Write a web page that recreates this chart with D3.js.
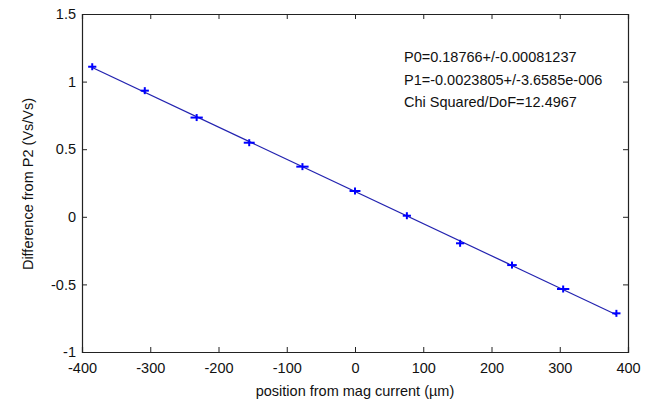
<!DOCTYPE html>
<html><head><meta charset="utf-8">
<script src="https://cdn.jsdelivr.net/npm/d3@7/dist/d3.min.js"></script>
<style>body{margin:0;background:#fff}svg{display:block}text{font-family:"Liberation Sans",Arial,sans-serif}</style>
</head><body><div id="c"></div>
<script>
const positions = [-385, -308, -232, -155, -77, 0, 76, 154, 230, 305, 383];
const differences = [1.110, 0.933, 0.734, 0.548, 0.371, 0.191, 0.008, -0.196, -0.357, -0.534, -0.714];
const xErrors = [3, 3, 6, 5, 6, 5, 3, 3, 4, 6, 3];
const fitP0 = 0.18766, fitP1 = -0.0023805;
const xTicks = [-400, -300, -200, -100, 0, 100, 200, 300, 400];
const yTicks = [-1, -0.5, 0, 0.5, 1, 1.5];
const annotations = ["P0=0.18766+/-0.00081237", "P1=-0.0023805+/-3.6585e-006", "Chi Squared/DoF=12.4967"];

const W = 646, H = 407;
const m = {l: 82, r: 18, t: 14, b: 55};
const svg = d3.select("#c").append("svg").attr("width", W).attr("height", H);
const x = d3.scaleLinear().domain([-400, 400]).range([m.l, W - m.r]);
const y = d3.scaleLinear().domain([-1, 1.5]).range([H - m.b, m.t]);
const blue = "#0000ff";
const fs = 14.5;

// axes box
const fmt = d => String(d);
const tl = 5;
svg.append("g").attr("transform", `translate(0,${y(-1)})`)
  .call(d3.axisBottom(x).tickValues(xTicks).tickSize(-tl).tickPadding(11).tickFormat(fmt));
svg.append("g").attr("transform", `translate(0,${y(1.5)})`)
  .call(d3.axisTop(x).tickValues(xTicks).tickSize(-tl).tickFormat(""));
svg.append("g").attr("transform", `translate(${x(-400)},0)`)
  .call(d3.axisLeft(y).tickValues(yTicks).tickSize(-tl).tickPadding(6).tickFormat(fmt));
svg.append("g").attr("transform", `translate(${x(400)},0)`)
  .call(d3.axisRight(y).tickValues(yTicks).tickSize(-tl).tickFormat(""));
svg.selectAll(".domain").attr("stroke", "#222").attr("stroke-width", 1.2);
svg.selectAll(".tick line").attr("stroke", "#222");
svg.selectAll(".tick text").attr("font-size", fs).attr("fill", "#111")
  .attr("font-family", "'Liberation Sans', Arial, sans-serif");

// fit line
const xmin = d3.min(positions), xmax = d3.max(positions);
svg.append("line")
  .attr("x1", x(xmin)).attr("y1", y(fitP0 + fitP1 * xmin))
  .attr("x2", x(xmax)).attr("y2", y(fitP0 + fitP1 * xmax))
  .attr("stroke", "#2323b0").attr("stroke-width", 1.2);

// markers
const g = svg.append("g").attr("stroke", blue).attr("stroke-width", 2);
positions.forEach((p, i) => {
  const cx = x(p), cy = y(differences[i]);
  g.append("line").attr("x1", x(p - xErrors[i] - 3)).attr("x2", x(p + xErrors[i] + 3)).attr("y1", cy).attr("y2", cy);
  g.append("line").attr("x1", cx).attr("x2", cx).attr("y1", cy - 3.5).attr("y2", cy + 3.5);
});

// annotation
svg.append("g").selectAll("text").data(annotations).join("text")
  .attr("x", 404).attr("y", (d, i) => 62 + i * 22.5)
  .attr("font-size", fs).attr("fill", "#111").text(d => d);

// labels
svg.append("text").attr("x", x(0)).attr("y", 396).attr("text-anchor", "middle")
  .attr("font-size", fs).attr("fill", "#111").text("position from mag current (\u00b5m)");
svg.append("text").attr("transform", `translate(33,184) rotate(-90)`).attr("text-anchor", "middle")
  .attr("font-size", fs).attr("fill", "#111").text("Difference from P2 (Vs/Vs)");
</script></body></html>
